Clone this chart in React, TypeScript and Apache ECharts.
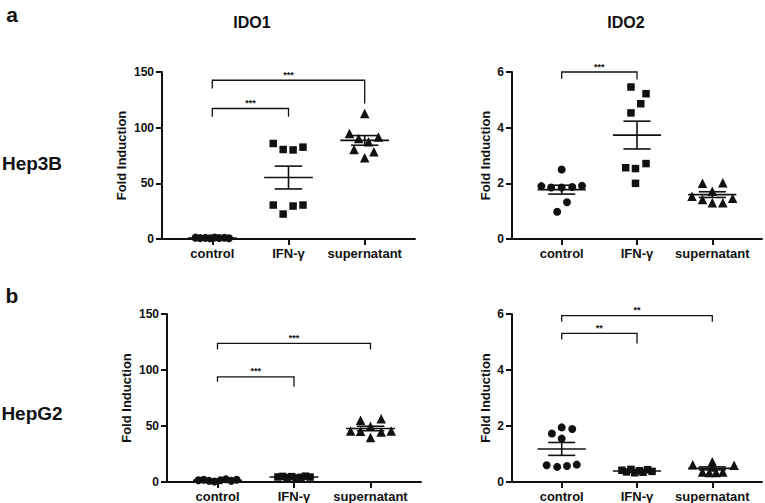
import React, { useEffect, useRef } from "react";
import * as echarts from "echarts";

// ---------- data ----------
const categories = ["control", "IFN-γ", "supernatant"];
const rowLabels = ["Hep3B", "HepG2"];
const columnLabels = ["IDO1", "IDO2"];
const panelLetters = ["a", "b"];
const yAxisTitle = "Fold Induction";

// Hep3B / IDO1
const hep3bIdo1Control = [1.2, 0.8, 1.0, 0.6, 1.4, 0.9, 1.1, 0.7];
const hep3bIdo1ControlJitter = [-0.22, -0.16, -0.09, -0.03, 0.03, 0.09, 0.16, 0.22];
const hep3bIdo1Ifn = [85.8, 80.4, 80.0, 82.5, 30.5, 22.4, 29.6, 30.5];
const hep3bIdo1IfnJitter = [-0.2, -0.07, 0.06, 0.19, -0.2, -0.07, 0.06, 0.19];
const hep3bIdo1Sup = [112.7, 94.8, 90.3, 87.3, 91.7, 80.4, 72.9, 78.3];
const hep3bIdo1SupJitter = [0, -0.2, -0.08, 0.05, 0.18, -0.14, 0, 0.12];

// Hep3B / IDO2
const hep3bIdo2Control = [1.9, 1.85, 2.5, 1.87, 1.91, 0.98, 1.32, 1.85];
const hep3bIdo2ControlJitter = [-0.27, -0.14, 0, 0.14, 0.27, -0.06, 0.07, 0];
const hep3bIdo2Ifn = [5.46, 5.22, 4.86, 4.53, 2.56, 2.53, 2.71, 2.0];
const hep3bIdo2IfnJitter = [-0.08, 0.12, 0.05, -0.08, -0.15, -0.02, 0.12, -0.02];
const hep3bIdo2Sup = [2.0, 2.02, 1.72, 1.54, 1.42, 1.3, 1.3, 1.46];
const hep3bIdo2SupJitter = [-0.13, 0.14, 0, -0.27, -0.13, 0, 0.14, 0.27];

// HepG2 / IDO1
const hepg2Ido1Control = [1.5, 2.0, 1.0, 0.5, 1.5, 2.5, 1.0, 2.0];
const hepg2Ido1ControlJitter = [-0.25, -0.18, -0.11, -0.04, 0.04, 0.11, 0.18, 0.25];
const hepg2Ido1Ifn = [4.5, 5.0, 4.0, 4.8, 3.6, 4.2, 5.2, 4.4];
const hepg2Ido1IfnJitter = [-0.21, -0.15, -0.09, -0.03, 0.03, 0.09, 0.15, 0.21];
const hepg2Ido1Sup = [55.2, 56.4, 49.8, 45.6, 45.3, 44.7, 45.6, 39.7];
const hepg2Ido1SupJitter = [-0.13, 0.14, 0, -0.26, -0.13, 0.14, 0.27, 0];

// HepG2 / IDO2
const hepg2Ido2Control = [1.73, 1.95, 1.89, 1.55, 0.6, 0.54, 0.57, 0.62];
const hepg2Ido2ControlJitter = [-0.13, 0, 0.14, 0, -0.2, -0.06, 0.07, 0.2];
const hepg2Ido2Ifn = [0.42, 0.36, 0.45, 0.33, 0.4, 0.35, 0.44, 0.38];
const hepg2Ido2IfnJitter = [-0.2, -0.14, -0.08, -0.03, 0.03, 0.08, 0.14, 0.2];
const hepg2Ido2Sup = [0.62, 0.72, 0.6, 0.36, 0.34, 0.34, 0.36, 0.54];
const hepg2Ido2SupJitter = [-0.26, 0, 0.29, -0.13, -0.04, 0.05, 0.14, 0];

// significance brackets: [fromCategory, toCategory, barValue, leftEndValue, rightEndValue]
const hep3bIdo1Brackets = [
  [1, 2, 117.2, 109.7, 109.7],
  [1, 3, 142.6, 135.2, 121.7],
];
const hep3bIdo1BracketLabels = ["***", "***"];
const hep3bIdo2Brackets = [[1, 2, 6.0, 5.76, 5.73]];
const hep3bIdo2BracketLabels = ["***"];
const hepg2Ido1Brackets = [
  [1, 2, 93.9, 89.4, 85.0],
  [1, 3, 123.8, 118.4, 118.4],
];
const hepg2Ido1BracketLabels = ["***", "***"];
const hepg2Ido2Brackets = [
  [1, 3, 5.94, 5.72, 5.72],
  [1, 2, 5.31, 5.09, 4.95],
];
const hepg2Ido2BracketLabels = ["**", "**"];

const ido1Ticks = { max: 150, interval: 50 };
const ido2Ticks = { max: 6, interval: 2 };

// ---------- layout / style ----------
const FONT = "'Liberation Sans', Arial, Helvetica, sans-serif";
const INK = "#111111";
const symbols = ["circle", "rect", "triangle"];
const symbolSizes = [8, 7.5, 9.5];

const panels = [
  {
    grid: { left: 162, top: 72, width: 253, height: 167 },
    ticks: ido1Ticks,
    groups: [
      [hep3bIdo1Control, hep3bIdo1ControlJitter],
      [hep3bIdo1Ifn, hep3bIdo1IfnJitter],
      [hep3bIdo1Sup, hep3bIdo1SupJitter],
    ],
    brackets: hep3bIdo1Brackets,
    bracketLabels: hep3bIdo1BracketLabels,
    nameGap: 34,
  },
  {
    grid: { left: 512, top: 72, width: 250, height: 167 },
    ticks: ido2Ticks,
    groups: [
      [hep3bIdo2Control, hep3bIdo2ControlJitter],
      [hep3bIdo2Ifn, hep3bIdo2IfnJitter],
      [hep3bIdo2Sup, hep3bIdo2SupJitter],
    ],
    brackets: hep3bIdo2Brackets,
    bracketLabels: hep3bIdo2BracketLabels,
    nameGap: 20,
  },
  {
    grid: { left: 167, top: 314, width: 254, height: 168 },
    ticks: ido1Ticks,
    groups: [
      [hepg2Ido1Control, hepg2Ido1ControlJitter],
      [hepg2Ido1Ifn, hepg2Ido1IfnJitter],
      [hepg2Ido1Sup, hepg2Ido1SupJitter],
    ],
    brackets: hepg2Ido1Brackets,
    bracketLabels: hepg2Ido1BracketLabels,
    nameGap: 34,
  },
  {
    grid: { left: 512, top: 314, width: 250, height: 168 },
    ticks: ido2Ticks,
    groups: [
      [hepg2Ido2Control, hepg2Ido2ControlJitter],
      [hepg2Ido2Ifn, hepg2Ido2IfnJitter],
      [hepg2Ido2Sup, hepg2Ido2SupJitter],
    ],
    brackets: hepg2Ido2Brackets,
    bracketLabels: hepg2Ido2BracketLabels,
    nameGap: 20,
  },
];

function meanSem(vals: number[]) {
  const n = vals.length;
  const m = vals.reduce((a, b) => a + b, 0) / n;
  const sd = Math.sqrt(vals.reduce((a, b) => a + (b - m) * (b - m), 0) / (n - 1));
  return [m, sd / Math.sqrt(n)];
}

function buildOption() {
  const grid: any[] = [];
  const xAxis: any[] = [];
  const yAxis: any[] = [];
  const series: any[] = [];

  panels.forEach((p, i) => {
    grid.push({ ...p.grid, outerBoundsMode: "none", containLabel: false });
    xAxis.push({
      gridIndex: i,
      type: "value",
      min: 0.34,
      max: 3.66,
      splitLine: { show: false },
      axisLine: { show: true, onZero: false, lineStyle: { color: INK, width: 2 } },
      axisTick: { show: true, customValues: [1, 2, 3], length: 6, lineStyle: { color: INK, width: 2 } },
      axisLabel: {
        customValues: [1, 2, 3],
        formatter: (v: number) => categories[Math.round(v) - 1],
        margin: 8,
        fontFamily: FONT,
        fontWeight: "bold",
        fontSize: 13,
        color: INK,
      },
    });
    yAxis.push({
      gridIndex: i,
      type: "value",
      min: 0,
      max: p.ticks.max,
      interval: p.ticks.interval,
      splitLine: { show: false },
      axisLine: { show: true, lineStyle: { color: INK, width: 2 } },
      axisTick: { show: true, length: 6, lineStyle: { color: INK, width: 2 } },
      axisLabel: { margin: 8, fontFamily: FONT, fontWeight: "bold", fontSize: 12, color: INK },
      name: yAxisTitle,
      nameLocation: "middle",
      nameGap: p.nameGap,
      nameTextStyle: { fontFamily: FONT, fontWeight: "bold", fontSize: 13, color: INK },
    });

    p.groups.forEach(([vals, jit], g) => {
      series.push({
        type: "scatter",
        xAxisIndex: i,
        yAxisIndex: i,
        symbol: symbols[g],
        symbolSize: symbolSizes[g],
        itemStyle: { color: INK, opacity: 1 },
        data: (vals as number[]).map((v, k) => [g + 1 + (jit as number[])[k], v]),
        z: 2,
      });
    });

    series.push({
      type: "custom",
      xAxisIndex: i,
      yAxisIndex: i,
      z: 5,
      data: p.groups.map(([vals], g) => {
        const [m, s] = meanSem(vals as number[]);
        return [g + 1, m, s];
      }),
      renderItem: (params: any, api: any) => {
        const x = api.value(0);
        const m = api.value(1);
        const s = api.value(2);
        const c = (a: number, b: number) => api.coord([a, b]);
        const st = { stroke: INK, lineWidth: 1.6, fill: null };
        const seg = (a: number[], b: number[]) => ({
          type: "line",
          shape: { x1: a[0], y1: a[1], x2: b[0], y2: b[1] },
          style: st,
        });
        return {
          type: "group",
          children: [
            seg(c(x - 0.32, m), c(x + 0.32, m)),
            seg(c(x - 0.18, m + s), c(x + 0.18, m + s)),
            seg(c(x - 0.18, m - s), c(x + 0.18, m - s)),
            seg(c(x, m - s), c(x, m + s)),
          ],
        };
      },
    });

    series.push({
      type: "custom",
      xAxisIndex: i,
      yAxisIndex: i,
      z: 6,
      data: p.brackets,
      renderItem: (params: any, api: any) => {
        const from = api.value(0);
        const to = api.value(1);
        const y = api.value(2);
        const le = api.value(3);
        const re = api.value(4);
        const c = (a: number, b: number) => api.coord([a, b]);
        const a1 = c(from, le);
        const a2 = c(from, y);
        const a3 = c(to, y);
        const a4 = c(to, re);
        const mid = c((from + to) / 2, y);
        return {
          type: "group",
          children: [
            {
              type: "polyline",
              shape: { points: [a1, a2, a3, a4] },
              style: { stroke: INK, lineWidth: 1.3, fill: null },
            },
            {
              type: "text",
              x: mid[0],
              y: mid[1] - 1,
              style: {
                text: p.bracketLabels[params.dataIndex],
                fill: INK,
                font: `bold 9px ${FONT}`,
                align: "center",
                verticalAlign: "bottom",
              },
            },
          ],
        };
      },
    });
  });

  const txt = (text: string, x: number, y: number, size: number) => ({
    type: "text",
    x,
    y,
    style: {
      text,
      fill: INK,
      font: `bold ${size}px ${FONT}`,
      align: "center",
      verticalAlign: "middle",
    },
  });

  return {
    animation: false,
    backgroundColor: "#ffffff",
    grid,
    xAxis,
    yAxis,
    series,
    graphic: [
      txt(panelLetters[0], 12, 14, 21),
      txt(panelLetters[1], 12, 295, 21),
      txt(columnLabels[0], 252, 22, 16),
      txt(columnLabels[1], 626, 22, 16),
      txt(rowLabels[0], 32, 163, 19),
      txt(rowLabels[1], 32, 413, 19),
    ],
  };
}

export default function App() {
  const ref = useRef<HTMLDivElement>(null);
  useEffect(() => {
    if (!ref.current) return;
    const chart = echarts.init(ref.current, undefined, { renderer: "svg" });
    chart.setOption(buildOption() as any);
    return () => chart.dispose();
  }, []);
  return (
    <div
      ref={ref}
      style={{ position: "fixed", left: 0, top: 0, width: 765, height: 503, background: "#fff" }}
    />
  );
}
